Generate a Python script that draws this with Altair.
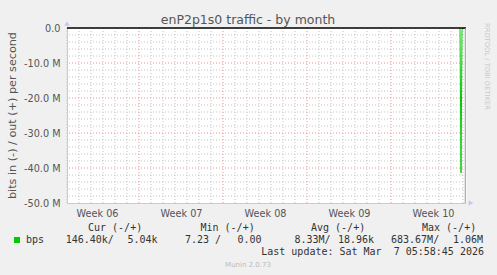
import altair as alt
import pandas as pd

# ---------------- data ----------------
title_text = "enP2p1s0 traffic - by month"
y_title = "bits in (-) / out (+) per second"
watermark = "RRDTOOL / TOBI OETIKER"
footer = "Munin 2.0.73"
last_update = "Last update: Sat Mar\u00a0\u00a07 05:58:45 2026"

week_labels = ["Week 06", "Week 07", "Week 08", "Week 09", "Week 10"]
week_centers = [-30.75, -23.75, -16.75, -9.75, -2.75]   # days before Sat Mar 7 06:00
week_starts = [-27.25, -20.25, -13.25, -6.25]

t_days = [-0.5, -0.4167, -0.3333, -0.25, -0.1667, -0.0833]
in_bps = [0.0, -41.4e6, -0.4e6, -0.2e6, -0.16e6, -0.146e6]
out_bps = [0.0, 0.3e6, 0.02e6, 0.008e6, 0.006e6, 0.005e6]
now_line = [-0.06]

series_name = "bps"
legend_headers = ["Cur (-/+)", "Min (-/+)", "Avg (-/+)", "Max (-/+)"]
legend_in = ["146.40k/", "7.23 /", "8.33M/", "683.67M/"]
legend_out = ["5.04k", "0.00", "18.96k", "1.06M"]

# ---------------- layout ----------------
W, H = 399, 175
GREEN = "#00cc00"
AXIS = "#c6c6f4"
MAJOR = "#ee9090"
MINOR = "#c4c4c4"
TXT = "#555555"
SANS = "DejaVu Sans"
MONO = "DejaVu Sans Mono"

x_domain = [-33.25, 0]
y_domain = [-50e6, 0]

x_minor = [-33.25 + k for k in range(34) if (-33.25 + k) not in week_starts]
y_major = [-50e6 + 10e6 * k for k in range(6)]
y_minor = [-50e6 + 2e6 * k for k in range(26) if k % 5 != 0]

x_label_expr = "''"
for c, l in reversed(list(zip(week_centers, week_labels))):
    x_label_expr = f"abs(datum.value - ({c})) < 0.01 ? '{l}' : ({x_label_expr})"
y_label_expr = (
    "datum.value == 0 ? '0.0\u00a0\u00a0' : "
    "'-' + format(abs(datum.value) / 1000000, '.1f') + ' M'"
)

x_axis = alt.Axis(
    values=week_centers,
    grid=False,
    ticks=False,
    labelExpr=x_label_expr,
    labelFont=SANS,
    labelFontSize=9.7,
    labelColor=TXT,
    labelPadding=13,
    labelBaseline="alphabetic",
    labelOverlap=False,
    labelFlush=False,
    labelBound=False,
    domainColor=AXIS,
    title=None,
)
y_axis = alt.Axis(
    values=y_major,
    grid=False,
    ticks=False,
    labelExpr=y_label_expr,
    labelFont=SANS,
    labelFontSize=9.7,
    labelColor=TXT,
    labelPadding=7,
    labelBaseline="middle",
    labelOverlap=False,
    labelFlush=False,
    labelBound=False,
    domainColor=AXIS,
    title=None,
)

x_scale = alt.Scale(domain=x_domain, nice=False, zero=False)
y_scale = alt.Scale(domain=y_domain, nice=False, zero=False)


def X():
    return alt.X("t:Q", scale=x_scale, axis=x_axis)


def Y():
    return alt.Y("v:Q", scale=y_scale, axis=y_axis)


one = pd.DataFrame({"k": [0]})


def txt(s, x, y, size=10, font=MONO, color="#333333", align="left",
        angle=0, baseline="alphabetic"):
    return alt.Chart(one).mark_text(
        font=font, fontSize=size, color=color, align=align,
        baseline=baseline, angle=angle,
    ).encode(x=alt.value(x), y=alt.value(y), text=alt.value(s))


def vgrid(vals, color):
    return alt.Chart(pd.DataFrame({"t": vals})).mark_rule(
        color=color, strokeWidth=1, strokeDash=[1, 2]).encode(x=X())


def hgrid(vals, color):
    return alt.Chart(pd.DataFrame({"v": vals})).mark_rule(
        color=color, strokeWidth=1, strokeDash=[1, 2]).encode(y=Y())


df = pd.DataFrame({
    "t": t_days + t_days,
    "v": in_bps + out_bps,
    "s": ["in"] * len(t_days) + ["out"] * len(t_days),
})

grids = [
    vgrid(x_minor, MINOR),
    hgrid(y_minor, MINOR),
    vgrid(week_starts, MAJOR),
    hgrid(y_major[1:-1], MAJOR),
]

lines = alt.Chart(df).mark_line(color=GREEN, strokeWidth=1, clip=True).encode(
    x=X(), y=Y(), detail="s:N")
zero_rule = alt.Chart(pd.DataFrame({"v": [0]})).mark_rule(
    color="black", strokeWidth=1.5).encode(y=Y())
now_rule = alt.Chart(pd.DataFrame({"t": now_line})).mark_rule(
    color="#999999", strokeWidth=1).encode(x=X())

arrow_up = alt.Chart(one).mark_point(
    shape="triangle-up", filled=True, size=30, color=AXIS, opacity=1
).encode(x=alt.value(0), y=alt.value(-4.5))
arrow_right = alt.Chart(one).mark_point(
    shape="triangle-right", filled=True, size=30, color=AXIS, opacity=1
).encode(x=alt.value(404), y=alt.value(175))
swatch = alt.Chart(one).mark_square(size=36, color=GREEN, opacity=1).encode(
    x=alt.value(-50), y=alt.value(212))

texts = [
    txt(title_text, 181, -4, size=12.5, font=SANS, color=TXT, align="center"),
    txt(y_title, -51.5, 87.5, size=11.2, font=SANS, color=TXT, align="center", angle=270),
    txt(watermark, 418, -5, size=6.75, font=SANS, color="#c8c8c8", align="left", angle=90),
    txt(series_name, -41, 215),
    txt(last_update, 417, 227, align="right"),
    txt(footer, 181, 238.5, size=7, font=SANS, color="#bbbbbb", align="center"),
]
header_x = [21, 133.5, 244, 355]
in_x = [-1.3, 118, 227.5, 324]
out_x = [60.5, 170.5, 271, 386]
for s, x in zip(legend_headers, header_x):
    texts.append(txt(s, x, 202.5))
for s, x in zip(legend_in, in_x):
    texts.append(txt(s, x, 215))
for s, x in zip(legend_out, out_x):
    texts.append(txt(s, x, 215))

chart = alt.layer(
    *grids, lines, zero_rule, now_rule, arrow_up, arrow_right, swatch, *texts
).properties(
    width=W,
    height=H,
    autosize=alt.AutoSizeParams(type="none"),
    padding={"left": 67, "top": 28, "right": 31, "bottom": 72},
    background="#f0f0f0",
).configure_view(fill="white", stroke="transparent")

chart.save("out.html", embed_options={"renderer": "svg", "actions": False})
